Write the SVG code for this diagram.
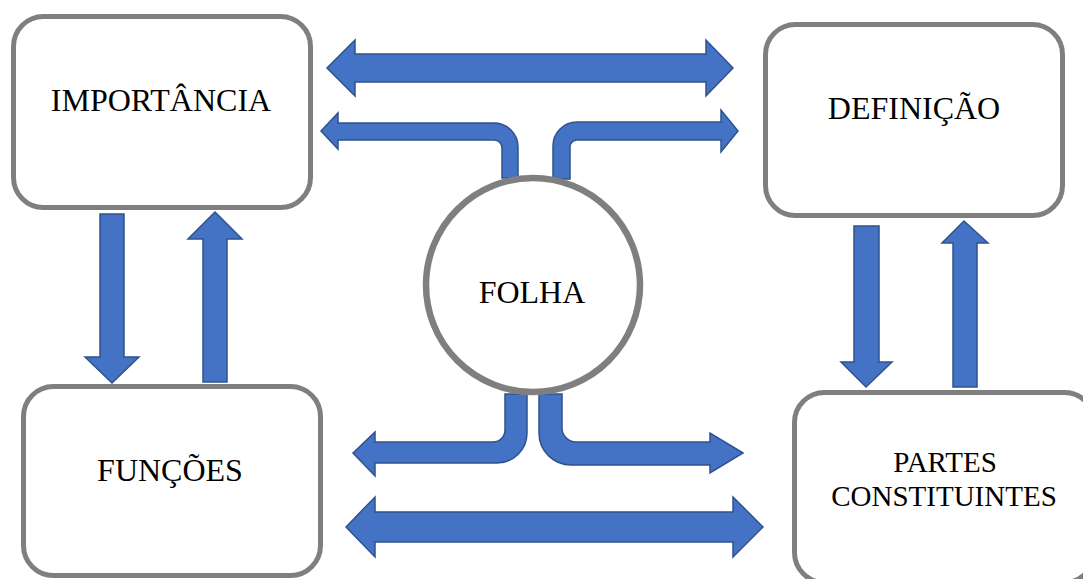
<svg xmlns="http://www.w3.org/2000/svg" width="1083" height="579" viewBox="0 0 1083 579">
<style>
.arr{fill:#4472C4;stroke:#2F528F;stroke-width:1.5;stroke-linejoin:miter}
.box{fill:#FFFFFF;stroke:#7F7F7F;stroke-width:5}
.circ{fill:#FFFFFF;stroke:#7F7F7F;stroke-width:6.5}
.lbl{font-family:"Liberation Serif","Times New Roman",serif;font-size:32px;fill:#000;text-anchor:middle}
</style>
<rect width="1083" height="579" fill="#FFFFFF"/>
<g id="connectors">
<path class="arr" d="M327,68 L355,40 L355,54 L706,54 L706,40 L733,68 L706,96 L706,82 L355,82 L355,96 Z"/>
<path class="arr" d="M346,527 L375,497 L375,512 L733,512 L733,497 L763,527 L733,557 L733,542 L375,542 L375,557 Z"/>
<path class="arr" d="M321,131 L338,113 L338,123 L494,123 A24,24 0 0 1 518,147 L518,178 L502,178 L502,148 A8,8 0 0 0 494,140 L338,140 L338,149 Z"/>
<path class="arr" d="M738,131 L721,110 L721,122 L577,122 A24,24 0 0 0 553,146 L553,179 L570,179 L570,147 A7,7 0 0 1 577,140 L721,140 L721,152 Z"/>
<path class="arr" d="M353,453 L375,432 L375,442 L493,442 A12,12 0 0 0 505,430 L505,394 L527,394 L527,433 A30,30 0 0 1 497,463 L375,463 L375,476 Z"/>
<path class="arr" d="M743,453 L710,433 L710,442 L576,442 A14,14 0 0 1 562,428 L562,394 L539,394 L539,433 A32,32 0 0 0 571,465 L710,465 L710,473 Z"/>
<path class="arr" d="M100,214 L124,214 L124,357 L139,357 L112,383 L85,357 L100,357 Z"/>
<path class="arr" d="M215,212 L242,239 L227,239 L227,382 L203,382 L203,239 L188,239 Z"/>
<path class="arr" d="M854,226 L879,226 L879,362 L892,362 L866,387 L841,362 L854,362 Z"/>
<path class="arr" d="M964,221 L988,243 L977,243 L977,387 L953,387 L953,243 L942,243 Z"/>
</g>
<g id="importancia">
<rect class="box" x="13.5" y="16.5" width="297" height="191" rx="30"/>
<text class="lbl" x="161" y="111">IMPORTÂNCIA</text>
</g>
<g id="definicao">
<rect class="box" x="765.5" y="24.5" width="297" height="191" rx="30"/>
<text class="lbl" x="914" y="119">DEFINIÇÃO</text>
</g>
<g id="funcoes">
<rect class="box" x="23.5" y="386.5" width="297" height="189" rx="30"/>
<text class="lbl" x="170" y="481">FUNÇÕES</text>
</g>
<g id="partes">
<rect class="box" x="794.5" y="392.5" width="300" height="190" rx="30"/>
<text class="lbl" x="945" y="472" style="font-size:29px">PARTES</text>
<text class="lbl" x="944" y="506" style="font-size:29px">CONSTITUINTES</text>
</g>
<g id="folha">
<circle class="circ" cx="533" cy="285" r="107"/>
<text class="lbl" x="532" y="303">FOLHA</text>
</g>
</svg>
